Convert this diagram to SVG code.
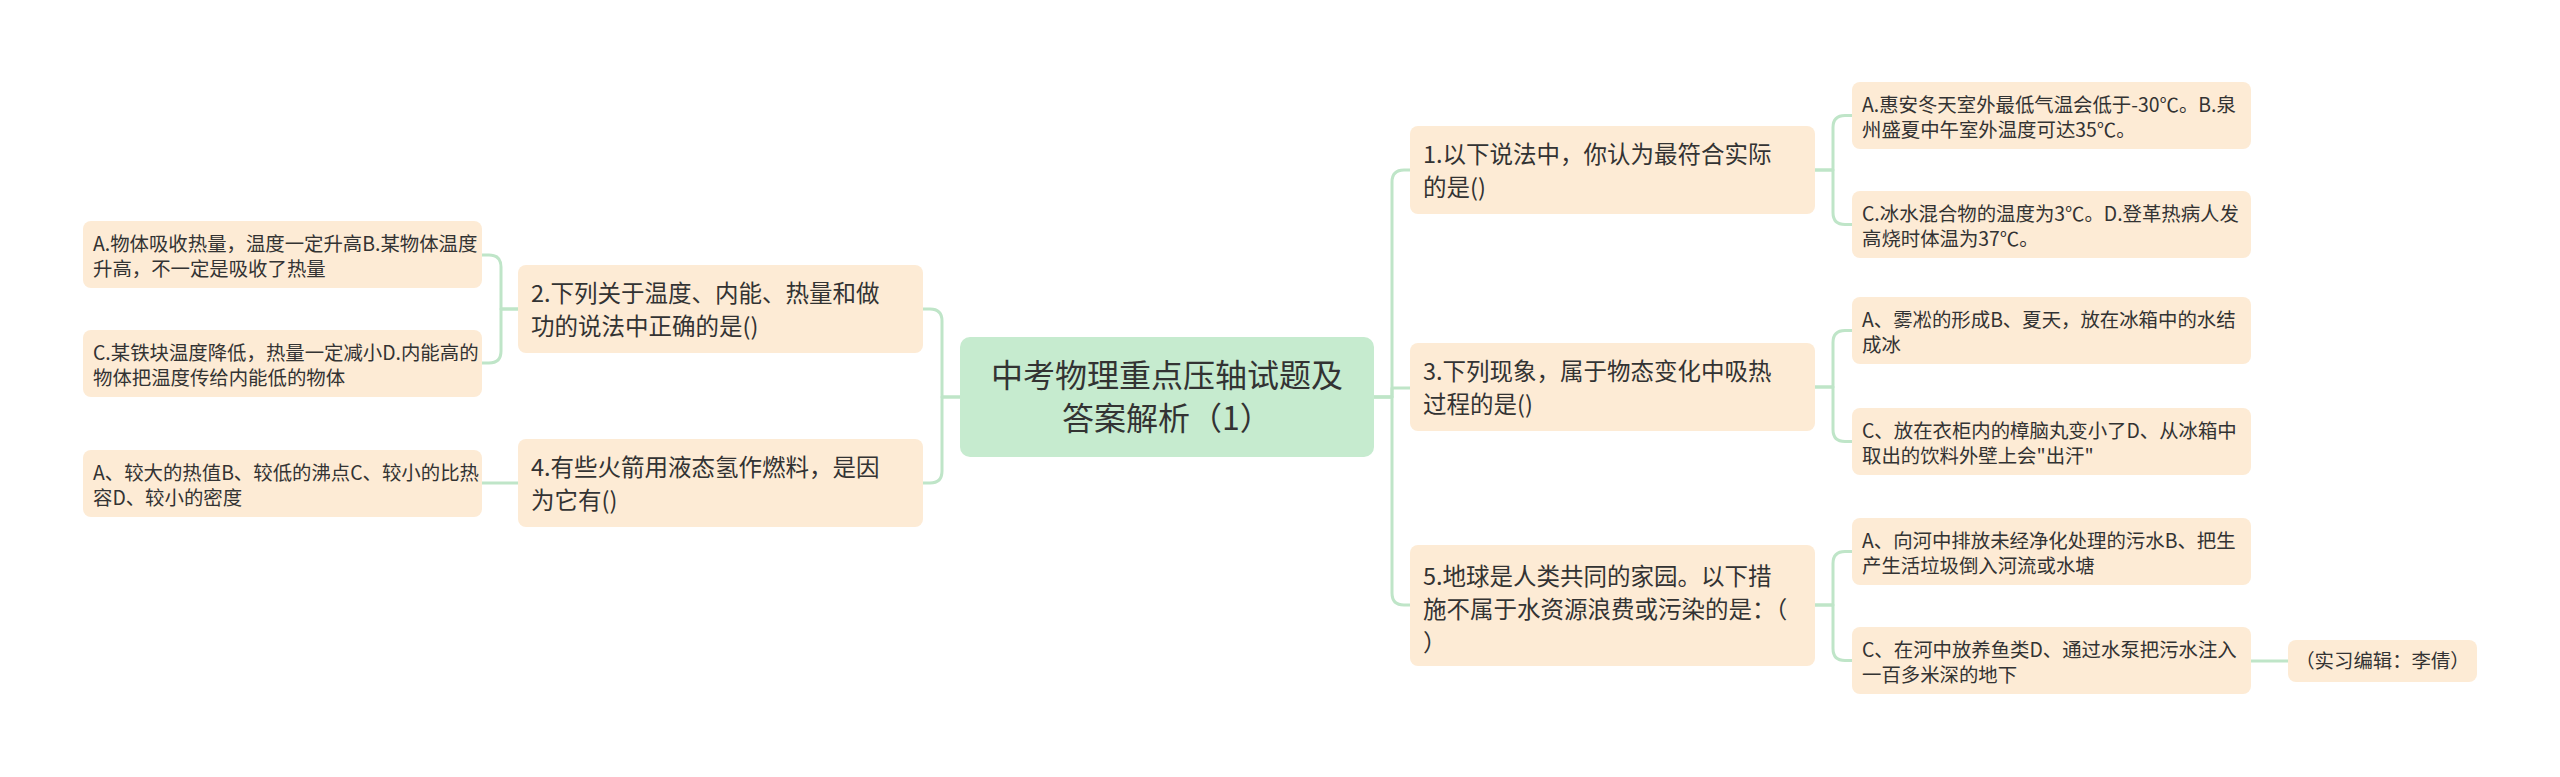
<svg xmlns="http://www.w3.org/2000/svg" width="2560" height="777" viewBox="0 0 2560 777">
<style>
.bg{fill:#ffffff}
.root rect{fill:#c6ebcf}
.node rect,.leaf rect{fill:#fdebd5}
text{font-family:"Noto Sans CJK SC","Noto Sans",sans-serif;fill:#333333}
.root text{font-size:32px;text-anchor:middle}
.node text{font-size:23.5px}
.leaf text{font-size:19.4px}
.mid{text-anchor:middle}
#connectors path{fill:none;stroke:#bfe5c8;stroke-width:3;stroke-linecap:round;stroke-linejoin:round}
</style>
<rect class="bg" x="0" y="0" width="2560" height="777"/>
<g id="connectors">
<path d="M1374,397 H1392 V182 Q1392,170 1404,170 H1410"/>
<path d="M1374,397 H1392 V388 H1410"/>
<path d="M1374,397 H1392 V593 Q1392,605 1404,605 H1410"/>
<path d="M960,397 H942 V321 Q942,309 930,309 H923"/>
<path d="M960,397 H942 V471 Q942,483 930,483 H923"/>
<path d="M518,309 H501 V267 Q501,255 489,255 H482"/>
<path d="M518,309 H501 V351 Q501,363 489,363 H482"/>
<path d="M518,483 H482"/>
<path d="M1815,170 H1833 V127.5 Q1833,115.5 1845,115.5 H1852"/>
<path d="M1815,170 H1833 V212.5 Q1833,224.5 1845,224.5 H1852"/>
<path d="M1815,387 H1833 V342.5 Q1833,330.5 1845,330.5 H1852"/>
<path d="M1815,387 H1833 V429.5 Q1833,441.5 1845,441.5 H1852"/>
<path d="M1815,605 H1833 V563.5 Q1833,551.5 1845,551.5 H1852"/>
<path d="M1815,605 H1833 V648.5 Q1833,660.5 1845,660.5 H1852"/>
<path d="M2251,661 H2288"/>
</g>
<g id="root" class="root">
<rect x="960" y="337" width="414" height="120" rx="10"/>
<text x="1167" y="387">中考物理重点压轴试题及</text>
<text x="1167" y="430">答案解析（1）</text>
</g>
<g id="n2" class="node">
<rect x="518" y="265" width="405" height="88" rx="8"/>
<text x="531" y="302">2.下列关于温度、内能、热量和做</text>
<text x="531" y="335">功的说法中正确的是()</text>
</g>
<g id="n4" class="node">
<rect x="518" y="439" width="405" height="88" rx="8"/>
<text x="531" y="476">4.有些火箭用液态氢作燃料，是因</text>
<text x="531" y="509">为它有()</text>
</g>
<g id="l2a" class="leaf">
<rect x="83" y="221" width="399" height="67" rx="8"/>
<text x="93" y="251">A.物体吸收热量，温度一定升高B.某物体温度</text>
<text x="93" y="276">升高，不一定是吸收了热量</text>
</g>
<g id="l2c" class="leaf">
<rect x="83" y="330" width="399" height="67" rx="8"/>
<text x="93" y="360">C.某铁块温度降低，热量一定减小D.内能高的</text>
<text x="93" y="385">物体把温度传给内能低的物体</text>
</g>
<g id="l4a" class="leaf">
<rect x="83" y="450" width="399" height="67" rx="8"/>
<text x="93" y="480">A、较大的热值B、较低的沸点C、较小的比热</text>
<text x="93" y="505">容D、较小的密度</text>
</g>
<g id="n1" class="node">
<rect x="1410" y="126" width="405" height="88" rx="8"/>
<text x="1423" y="163">1.以下说法中，你认为最符合实际</text>
<text x="1423" y="196">的是()</text>
</g>
<g id="n3" class="node">
<rect x="1410" y="343" width="405" height="88" rx="8"/>
<text x="1423" y="380">3.下列现象，属于物态变化中吸热</text>
<text x="1423" y="413">过程的是()</text>
</g>
<g id="n5" class="node">
<rect x="1410" y="545" width="405" height="121" rx="8"/>
<text x="1423" y="585">5.地球是人类共同的家园。以下措</text>
<text x="1423" y="618">施不属于水资源浪费或污染的是：（</text>
<text x="1423" y="651">）</text>
</g>
<g id="l1a" class="leaf">
<rect x="1852" y="82" width="399" height="67" rx="8"/>
<text x="1862" y="112">A.惠安冬天室外最低气温会低于-30℃。B.泉</text>
<text x="1862" y="137">州盛夏中午室外温度可达35℃。</text>
</g>
<g id="l1c" class="leaf">
<rect x="1852" y="191" width="399" height="67" rx="8"/>
<text x="1862" y="221">C.冰水混合物的温度为3℃。D.登革热病人发</text>
<text x="1862" y="246">高烧时体温为37℃。</text>
</g>
<g id="l3a" class="leaf">
<rect x="1852" y="297" width="399" height="67" rx="8"/>
<text x="1862" y="327">A、雾凇的形成B、夏天，放在冰箱中的水结</text>
<text x="1862" y="352">成冰</text>
</g>
<g id="l3c" class="leaf">
<rect x="1852" y="408" width="399" height="67" rx="8"/>
<text x="1862" y="438">C、放在衣柜内的樟脑丸变小了D、从冰箱中</text>
<text x="1862" y="463">取出的饮料外壁上会"出汗"</text>
</g>
<g id="l5a" class="leaf">
<rect x="1852" y="518" width="399" height="67" rx="8"/>
<text x="1862" y="548">A、向河中排放未经净化处理的污水B、把生</text>
<text x="1862" y="573">产生活垃圾倒入河流或水塘</text>
</g>
<g id="l5c" class="leaf">
<rect x="1852" y="627" width="399" height="67" rx="8"/>
<text x="1862" y="657">C、在河中放养鱼类D、通过水泵把污水注入</text>
<text x="1862" y="682">一百多米深的地下</text>
</g>
<g id="l5c1" class="leaf">
<rect x="2288" y="640" width="189" height="42" rx="8"/>
<text class="mid" x="2382.5" y="668">（实习编辑：李倩）</text>
</g>
</svg>
